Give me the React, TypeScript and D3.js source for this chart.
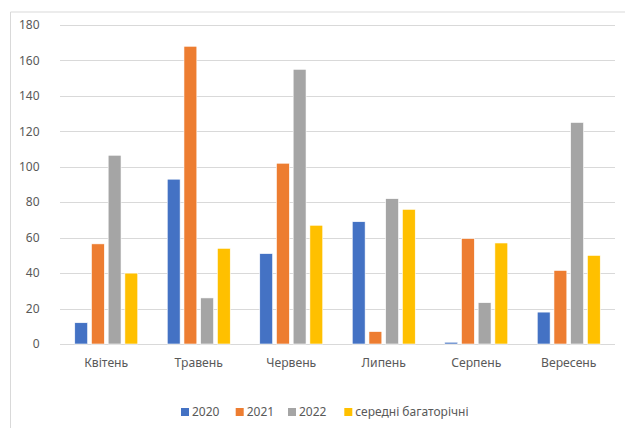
import React from "react";
import * as d3 from "d3";

const categories = ["Квітень", "Травень", "Червень", "Липень", "Серпень", "Вересень"];
const seriesNames = ["2020", "2021", "2022", "середні багаторічні"];
const s2020 = [12, 93, 51, 69, 1, 18];
const s2021 = [56.5, 168, 102, 7, 59.5, 41.5];
const s2022 = [106.5, 26, 155, 82, 23.3, 125];
const sMean = [40, 54, 67, 76, 57, 50];
const yTicks = [0, 20, 40, 60, 80, 100, 120, 140, 160, 180];
const colors = ["#4472C4", "#ED7D31", "#A5A5A5", "#FFC000"];

const W = 625;
const H = 428;
const FONT = "'Noto Sans', 'Open Sans', sans-serif";

export default function App() {
  const series = [s2020, s2021, s2022, sMean];
  const x = d3.scaleBand<string>().domain(categories).range([60, 615]).paddingInner(0.319).paddingOuter(0.1595);
  const xs = d3.scaleBand<string>().domain(seriesNames).range([0, x.bandwidth()]).paddingInner(0.23).paddingOuter(0);
  const y = d3.scaleLinear().domain([0, 180]).range([344, 25]);

  const legendX = [181, 235.7, 288, 344.3];

  return (
    <svg width={W} height={H} style={{ position: "absolute", left: 0, top: 0, background: "#fff" }}>
      <rect x={0} y={0} width={W} height={H} fill="#fff" />
      <line x1={10.5} y1={12} x2={W} y2={12} stroke="#D9D9D9" strokeWidth={1} />
      <line x1={10.5} y1={12} x2={10.5} y2={H} stroke="#D9D9D9" strokeWidth={1} />
      {yTicks.map((t) => (
        <g key={t}>
          <line x1={60} x2={615} y1={Math.round(y(t)) + 0.5} y2={Math.round(y(t)) + 0.5} stroke="#D9D9D9" strokeWidth={1} />
          <text x={39.5} y={y(t)} dy="0.35em" textAnchor="end" fontSize={12} fill="#595959" fontFamily={FONT}>
            {t}
          </text>
        </g>
      ))}
      {categories.map((c, ci) => (
        <g key={c} transform={`translate(${x(c)},0)`}>
          {series.map((s, si) => (
            <rect
              key={si}
              x={xs(seriesNames[si])}
              y={y(s[ci])}
              width={xs.bandwidth()}
              height={y(0) - y(s[ci])}
              fill={colors[si]}
              stroke="#fff"
              strokeWidth={0.6}
            />
          ))}
          <text x={x.bandwidth() / 2} y={363} dy="0.35em" textAnchor="middle" fontSize={12.2} fill="#595959" fontFamily={FONT}>
            {c}
          </text>
        </g>
      ))}
      {seriesNames.map((n, i) => (
        <g key={n} transform={`translate(${legendX[i]},412)`}>
          <rect x={0} y={-4} width={8} height={8} fill={colors[i]} />
          <text x={11} y={0} dy="0.35em" fontSize={12} fill="#595959" fontFamily={FONT}>
            {n}
          </text>
        </g>
      ))}
    </svg>
  );
}
